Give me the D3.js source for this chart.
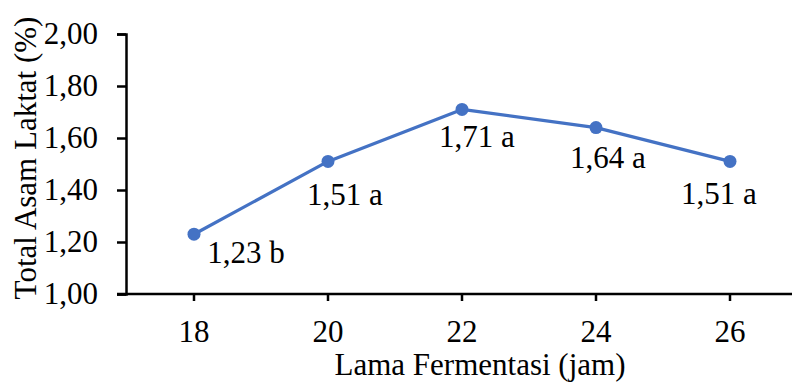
<!DOCTYPE html>
<html>
<head>
<meta charset="utf-8">
<script src="https://cdn.jsdelivr.net/npm/d3@7"></script>
<style>
  html, body { margin: 0; padding: 0; background: #fff; }
  svg { display: block; }
  svg text { font-family: "Liberation Serif", "Times New Roman", serif; }
</style>
</head>
<body>
<svg id="chart" width="794" height="387"></svg>
<script>
// Fermentation time (hours) and total lactic acid (%)
const categories = ["18", "20", "22", "24", "26"];
const values = [1.23, 1.51, 1.71, 1.64, 1.51];
const letters = ["b", "a", "a", "a", "a"];
const yTicks = [1.0, 1.2, 1.4, 1.6, 1.8, 2.0];
// label offsets relative to each point (dx, dy)
const labelOffsets = [[52, 29], [17, 44], [15, 38], [12, 40], [-11, 43]];

const svg = d3.select("#chart");
const margin = { left: 126, right: 2, top: 34, bottom: 93 };
const W = 794, H = 387;

const x = d3.scaleBand().domain(categories).range([margin.left + 1, margin.left + 1 + 134 * 5]);
const y = d3.scaleLinear().domain([1.0, 2.0]).range([H - margin.bottom, margin.top]);
const fmt = v => d3.format(".2f")(v).replace(".", ",");
const fontSize = 31;

// y axis
const yAxis = svg.append("g")
  .attr("transform", `translate(${margin.left},0)`)
  .call(d3.axisLeft(y).tickValues(yTicks).tickFormat(fmt).tickSize(9).tickPadding(19));
yAxis.attr("font-family", null).attr("font-size", null);
yAxis.select(".domain").attr("stroke", "#000").attr("stroke-width", 2.5);
yAxis.selectAll(".tick line").attr("stroke", "#000").attr("stroke-width", 2.5);
yAxis.selectAll(".tick text").attr("fill", "#000").style("font-size", fontSize + "px")
  .attr("dy", "0.32em");

// x axis
const xAxis = svg.append("g")
  .attr("transform", `translate(0,${y(1.0)})`)
  .call(d3.axisBottom(x).tickSize(7).tickSizeOuter(0).tickPadding(19));
xAxis.attr("font-family", null).attr("font-size", null);
xAxis.select(".domain").attr("stroke", "#000").attr("stroke-width", 2.5)
  .attr("d", `M${margin.left - 9},0H${W - 2}`);
xAxis.selectAll(".tick line").attr("stroke", "#000").attr("stroke-width", 2.5);
xAxis.selectAll(".tick text").attr("fill", "#000").style("font-size", fontSize + "px")
  .attr("dy", "0.71em");

// line and markers
const cx = (d, i) => x(categories[i]) + x.bandwidth() / 2;
const line = d3.line().x((d, i) => cx(d, i)).y(d => y(d));
svg.append("path").datum(values)
  .attr("fill", "none").attr("stroke", "#4472C4").attr("stroke-width", 3.25)
  .attr("stroke-linejoin", "round").attr("d", line);
svg.selectAll("circle.pt").data(values).enter().append("circle")
  .attr("class", "pt")
  .attr("cx", cx).attr("cy", d => y(d)).attr("r", 6.5).attr("fill", "#4472C4");

// value labels
svg.selectAll("text.lbl").data(values).enter().append("text")
  .attr("class", "lbl")
  .attr("x", (d, i) => cx(d, i) + labelOffsets[i][0])
  .attr("y", (d, i) => y(d) + labelOffsets[i][1])
  .attr("text-anchor", "middle")
  .style("font-size", fontSize + "px").attr("fill", "#000")
  .text((d, i) => fmt(d) + " " + letters[i]);

// axis titles
svg.append("text")
  .attr("transform", `translate(36,${(y(1) + y(2)) / 2 - 6}) rotate(-90)`)
  .attr("text-anchor", "middle").style("font-size", fontSize + "px").attr("fill", "#000")
  .text("Total Asam Laktat (%)");
svg.append("text")
  .attr("x", 480).attr("y", 375)
  .attr("text-anchor", "middle").style("font-size", fontSize + "px").attr("fill", "#000")
  .text("Lama Fermentasi (jam)");
</script>
</body>
</html>
